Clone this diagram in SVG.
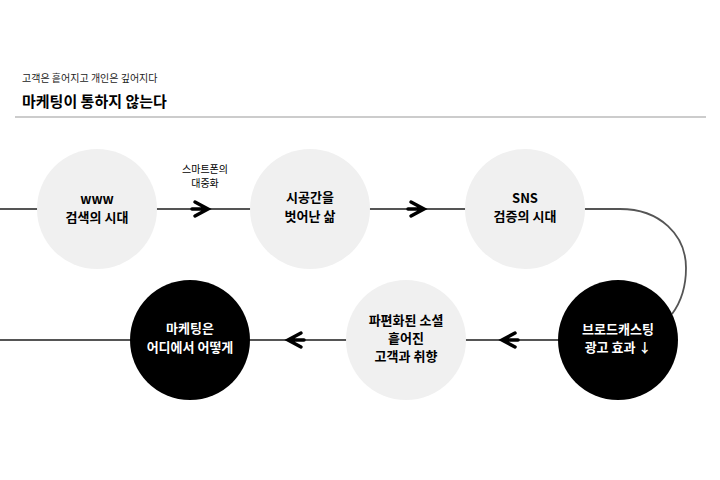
<svg xmlns="http://www.w3.org/2000/svg" width="720" height="480" viewBox="0 0 720 480">
<style>
text{font-family:"Noto Sans CJK KR","Noto Sans",sans-serif;text-anchor:middle}
.g{fill:#f0f0f0}.k{fill:#000}
.l{font-size:13px;font-weight:700}
.w{fill:#fff}
.ln{stroke:#555;stroke-width:1.8;fill:none}
.ar{stroke:#000;stroke-width:3.5;fill:none;stroke-linecap:round}
</style>
<rect width="720" height="480" fill="#fff"/>
<text x="22" y="82" style="text-anchor:start;font-size:10px" fill="#222">고객은 흩어지고 개인은 깊어지다</text>
<text x="22" y="107" style="text-anchor:start;font-size:15px;font-weight:700">마케팅이 통하지 않는다</text>
<line x1="15" y1="117" x2="706" y2="117" stroke="#bbb" stroke-width="1.5"/>
<g id="connectors">
<path class="ln" d="M0,209 H620 C660,209 686,235 686,268 C686,288 681,302 672,314"/>
<line class="ln" x1="0" y1="340" x2="560" y2="340"/>
<path class="ar" d="M195,202 L208,209 L195,216 M192,209 H207"/>
<path class="ar" d="M411,202 L424,209 L411,216 M408,209 H423"/>
<path class="ar" d="M515,333 L502,340 L515,347 M518,340 H503"/>
<path class="ar" d="M301,333 L288,340 L301,347 M304,340 H289"/>
<text x="205" y="173" style="font-size:10px">스마트폰의</text>
<text x="205" y="187" style="font-size:10px">대중화</text>
</g>
<g id="n1"><circle class="g" cx="97" cy="209" r="60"/><text class="l" x="97" y="204">www</text><text class="l" x="97" y="222">검색의 시대</text></g>
<g id="n2"><circle class="g" cx="310" cy="209" r="60"/><text class="l" x="310" y="202">시공간을</text><text class="l" x="310" y="221">벗어난 삶</text></g>
<g id="n3"><circle class="g" cx="525" cy="209" r="60"/><text class="l" x="525" y="203">SNS</text><text class="l" x="525" y="221">검증의 시대</text></g>
<g id="n4"><circle class="k" cx="618" cy="340" r="60"/><text class="l w" x="618" y="334">브로드캐스팅</text><text class="l w" x="618" y="352">광고 효과 ↓</text></g>
<g id="n5"><circle class="g" cx="406" cy="340" r="60"/><text class="l" x="406" y="325">파편화된 소셜</text><text class="l" x="406" y="343">흩어진</text><text class="l" x="406" y="361">고객과 취향</text></g>
<g id="n6"><circle class="k" cx="190" cy="340" r="60"/><text class="l w" x="190" y="333">마케팅은</text><text class="l w" x="190" y="352">어디에서 어떻게</text></g>
</svg>
